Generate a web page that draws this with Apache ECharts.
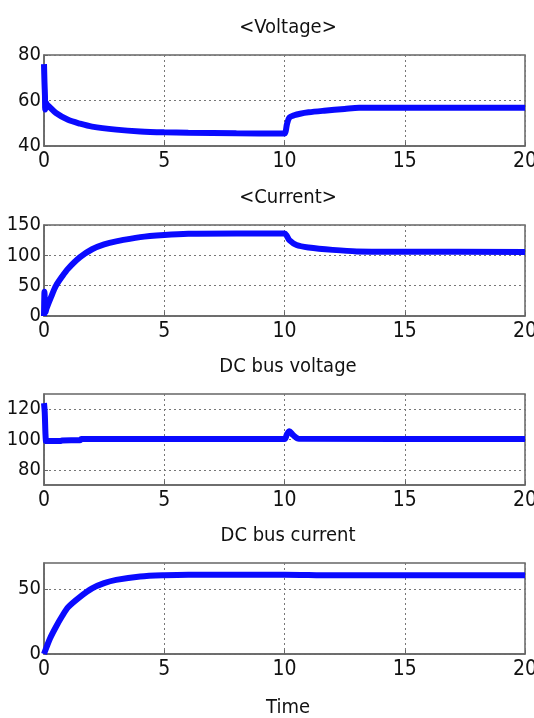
<!DOCTYPE html>
<html>
<head>
<meta charset="utf-8">
<script src="https://cdn.jsdelivr.net/npm/echarts@6/dist/echarts.min.js"></script>
<style>
html,body{margin:0;padding:0;background:#fff;}
#c{width:534px;height:718px;}
</style>
</head>
<body>
<div id="c"></div>
<script>
// ---- data ----
var panelTitles = ['<Voltage>', '<Current>', 'DC bus voltage', 'DC bus current'];
var xLabel = 'Time';
var xTicks = [0, 5, 10, 15, 20];

var voltageT = [0, 0.02, 0.04, 0.05, 0.07, 0.1, 0.2, 0.5, 1, 1.5, 2, 3, 4, 5, 6, 8, 10, 10.05, 10.1, 10.2, 10.4, 10.65, 11, 11.65, 12.5, 13.1, 15, 20];
var voltageV = [76, 68, 62, 56, 59.5, 58.5, 57.5, 54.5, 51.5, 49.8, 48.5, 47.2, 46.4, 46, 45.8, 45.6, 45.5, 46.5, 49.5, 52.5, 53.5, 54.2, 54.8, 55.5, 56.3, 56.8, 56.8, 56.8];
var voltageTicks = [40, 60, 80];

var currentT = [0, 0.02, 0.04, 0.06, 0.1, 0.3, 0.5, 0.75, 1, 1.5, 2, 2.5, 3, 4, 5, 6, 8, 10, 10.1, 10.2, 10.5, 11, 12, 13, 15, 20];
var currentV = [0, 40, 10, 6, 12, 32, 50, 65, 78, 97, 110, 118, 123, 130, 133.5, 135.5, 136, 136, 132, 125, 117, 113, 109, 106.5, 106, 105.5];
var currentTicks = [0, 50, 100, 150];

var busVT = [0, 0.03, 0.06, 0.08, 0.1, 0.7, 0.75, 1.5, 1.55, 10, 10.1, 10.2, 10.35, 10.6, 20];
var busVV = [124, 118, 104, 99, 98.8, 99, 99.4, 99.5, 100.3, 100.3, 103.5, 105.5, 103, 100.5, 100.3];
var busVTicks = [80, 100, 120];

var busIT = [0, 0.1, 0.25, 0.5, 0.75, 1, 1.5, 2, 2.5, 3, 4, 5, 6, 10, 12, 20];
var busIV = [0, 5, 12, 21, 29, 36, 44, 50.5, 54.5, 57, 59.6, 60.6, 61, 61, 60.5, 60.5];
var busITicks = [0, 50];

// ---- chart ----
function pairs(t, v) { return t.map(function (x, i) { return [x, v[i]]; }); }

var FONT = "'Liberation Sans Narrow', 'DejaVu Sans Condensed', 'Liberation Sans', sans-serif";
var tops = [55, 225, 394, 563];
var H = 91;
var yCfg = [
  { min: 40, max: 80, ticks: voltageTicks },
  { min: 0, max: 150, ticks: currentTicks },
  { min: 70, max: 130, ticks: busVTicks },
  { min: 0, max: 70, ticks: busITicks }
];
var datas = [pairs(voltageT, voltageV), pairs(currentT, currentV), pairs(busVT, busVV), pairs(busIT, busIV)];

var grids = [], xAxes = [], yAxes = [], series = [], titles = [];
for (var i = 0; i < 4; i++) {
  grids.push({ left: 44, right: 9, top: tops[i], height: H, show: true, borderColor: '#666', borderWidth: 1.5,
    backgroundColor: '#fff', containLabel: false, outerBoundsMode: 'none' });
  titles.push({
    text: panelTitles[i], left: 283, top: tops[i] - 42, textAlign: 'center',
    textStyle: { fontFamily: FONT, fontSize: 20, fontWeight: 'normal', color: '#111' }
  });
  xAxes.push({
    type: 'value', gridIndex: i, min: 0, max: 20, interval: 5,
    axisLine: { show: true, lineStyle: { color: '#666', width: 1.5 } },
    axisTick: { show: true, inside: true, length: 4, lineStyle: { color: '#666' } },
    axisLabel: { fontFamily: FONT, fontSize: 21, color: '#111', margin: 5, showMaxLabel: true, showMinLabel: true,
      formatter: function (v) { return xTicks.indexOf(v) >= 0 ? String(v) : ''; } },
    splitLine: { show: true, lineStyle: { color: '#777', type: [2, 3], width: 1 } }
  });
  yAxes.push({
    type: 'value', gridIndex: i, min: yCfg[i].min, max: yCfg[i].max,
    axisLine: { show: true, lineStyle: { color: '#666', width: 1.5 } },
    axisTick: { show: true, inside: true, length: 4, lineStyle: { color: '#666' }, customValues: yCfg[i].ticks },
    axisLabel: { fontFamily: FONT, fontSize: 20, color: '#111', margin: 3, customValues: yCfg[i].ticks },
    splitLine: { show: true, lineStyle: { color: '#777', type: [2, 3], width: 1 } }
  });
  series.push({
    type: 'line', xAxisIndex: i, yAxisIndex: i, data: datas[i], showSymbol: false, smooth: 0.3,
    lineStyle: { color: '#0a0aff', width: 6 }, clip: true, animation: false
  });
}
titles.push({
  text: xLabel, left: 283, top: 693, textAlign: 'center',
  textStyle: { fontFamily: FONT, fontSize: 20, fontWeight: 'normal', color: '#111' }
});

var chart = echarts.init(document.getElementById('c'), null, { renderer: 'canvas' });
chart.setOption({
  animation: false,
  backgroundColor: '#fff',
  title: titles,
  grid: grids,
  xAxis: xAxes,
  yAxis: yAxes,
  series: series
});
</script>
</body>
</html>
